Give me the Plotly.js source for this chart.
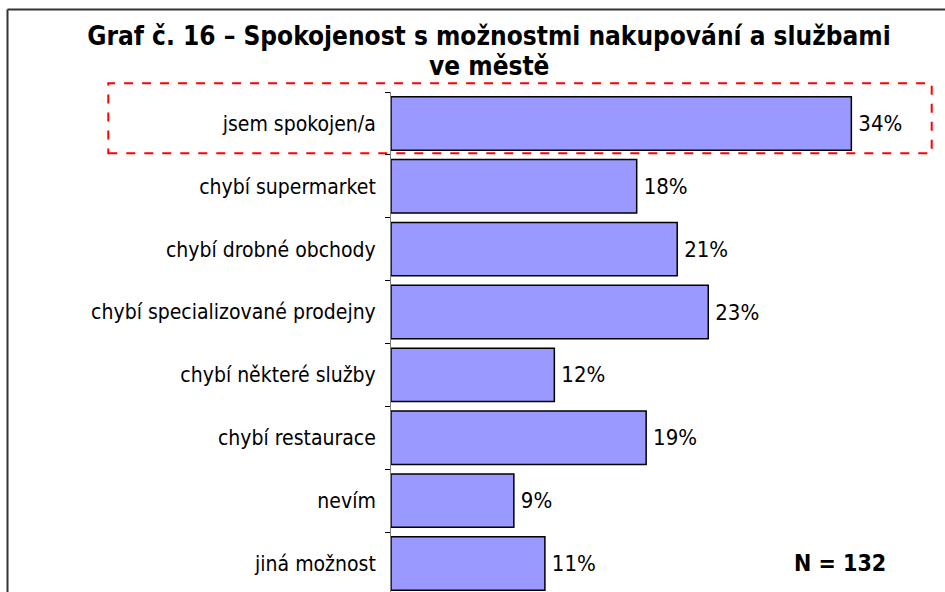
<!DOCTYPE html>
<html>
<head>
<meta charset="utf-8">
<script src="https://cdn.plot.ly/plotly-3.0.1.min.js"></script>
<style>
html,body{margin:0;padding:0;background:#fff;overflow:hidden;}
#chart{width:945px;height:592px;}
</style>
</head>
<body>
<div id="chart"></div>
<script>
const categories = [
  "jsem spokojen/a",
  "chybí supermarket",
  "chybí drobné obchody",
  "chybí specializované prodejny",
  "chybí některé služby",
  "chybí restaurace",
  "nevím",
  "jiná možnost"
];
const values = [34.1, 18.2, 21.2, 23.5, 12.1, 18.9, 9.1, 11.4];
const valueLabels = ["34%", "18%", "21%", "23%", "12%", "19%", "9%", "11%"];
const titleLine1 = "Graf č. 16 – Spokojenost s možnostmi nakupování a službami";
const titleLine2 = "ve městě";
const sampleNote = "N = 132";

const FONT = "'DejaVu Sans Condensed', 'DejaVu Sans', sans-serif";

// pixel -> paper helpers (plot area: x 391..931, y 92..592)
const PX = px => (px - 391) / 540;
const PY = py => (592 - py) / 500;

const trace = {
  type: "bar",
  orientation: "h",
  y: categories,
  x: values,
  text: valueLabels,
  texttemplate: "\u2009%{text}",
  textposition: "outside",
  cliponaxis: false,
  textfont: {family: FONT, size: 22, color: "#000"},
  marker: {color: "#9999FF", line: {color: "#000000", width: 1.5}},
  hoverinfo: "none"
};

const layout = {
  width: 945,
  height: 592,
  margin: {l: 391, r: 14, t: 92, b: 0, pad: 0},
  paper_bgcolor: "#ffffff",
  plot_bgcolor: "#ffffff",
  showlegend: false,
  bargap: 0.15,
  title: {
    text: titleLine1,
    font: {family: FONT, size: 26, color: "#000", weight: "bold"},
    xref: "container", x: 489/945, xanchor: "center",
    yref: "container", y: 1 - 36/592, yanchor: "middle"
  },
  xaxis: {
    range: [0, 40],
    visible: false,
    fixedrange: true
  },
  yaxis: {
    type: "category",
    range: [7.454, -0.5],
    showline: true,
    linecolor: "#808080",
    linewidth: 1,
    ticks: "outside",
    tickson: "boundaries",
    ticklen: 5,
    tickcolor: "#000",
    tickwidth: 1,
    ticklabelstandoff: 10,
    showgrid: false,
    zeroline: false,
    tickfont: {family: FONT, size: 21, color: "#000"},
    fixedrange: true
  },
  shapes: [
    {type: "line", xref: "paper", yref: "paper",
     x0: PX(7.5), x1: PX(965), y0: PY(9.5), y1: PY(9.5),
     line: {color: "#333333", width: 2}},
    {type: "line", xref: "paper", yref: "paper",
     x0: PX(7.5), x1: PX(7.5), y0: PY(9.5), y1: PY(610),
     line: {color: "#333333", width: 2}},
    {type: "rect", xref: "paper", yref: "paper",
     x0: PX(108.3), x1: PX(931.7), y0: PY(153.3), y1: PY(83.3),
     line: {color: "#FF0000", width: 2, dash: "dash"}, fillcolor: "rgba(0,0,0,0)"}
  ],
  annotations: [
    {text: titleLine2, xref: "paper", yref: "paper",
     x: PX(489), y: PY(66), xanchor: "center", yanchor: "middle",
     showarrow: false, font: {family: FONT, size: 26, color: "#000", weight: "bold"}},
    {text: sampleNote, xref: "paper", yref: "paper",
     x: PX(840), y: PY(563), xanchor: "center", yanchor: "middle",
     showarrow: false, font: {family: FONT, size: 23, color: "#000", weight: "bold"}}
  ]
};

Plotly.newPlot("chart", [trace], layout, {displayModeBar: false, staticPlot: true});
</script>
</body>
</html>
